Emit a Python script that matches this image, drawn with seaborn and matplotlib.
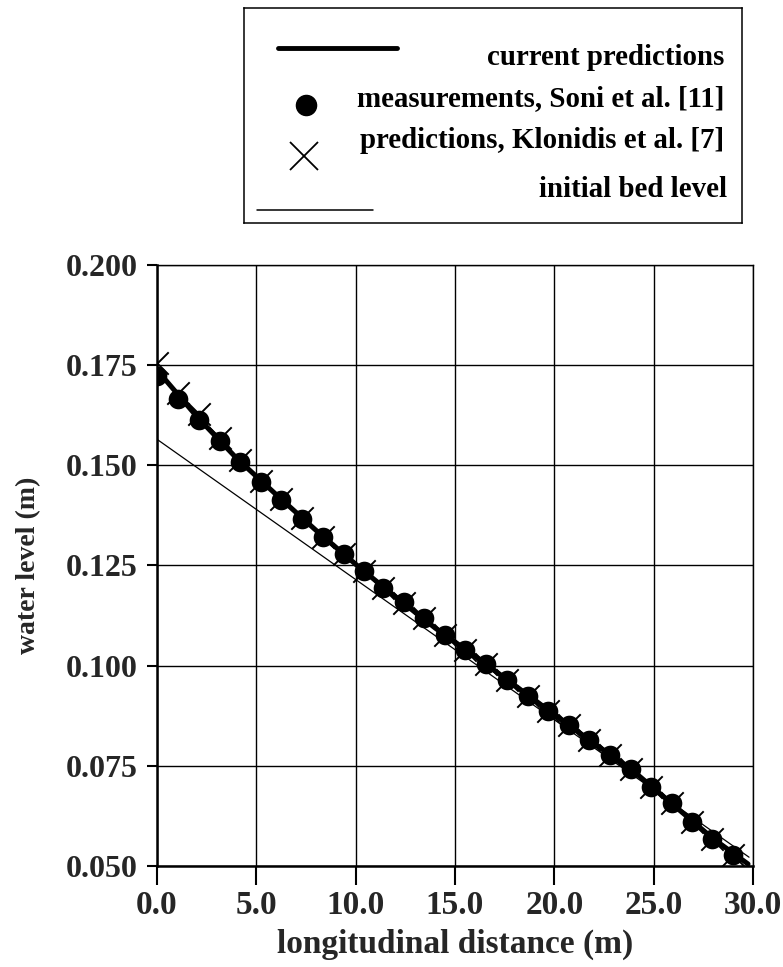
import matplotlib
matplotlib.use("Agg")
import matplotlib.pyplot as plt
import numpy as np
import pandas as pd
import seaborn as sns

# Longitudinal positions of the measuring stations (m)
x_stations = [0.0, 1.05, 2.1, 3.15, 4.2, 5.25, 6.25, 7.3, 8.35, 9.4,
              10.4, 11.4, 12.45, 13.45, 14.5, 15.5, 16.55, 17.6, 18.65, 19.7,
              20.75, 21.75, 22.8, 23.85, 24.85, 25.9, 26.95, 27.95, 29.0]

# Measured water levels, Soni et al. [11] (m)
y_measured = [0.1723, 0.1666, 0.1613, 0.1561, 0.1508, 0.1459, 0.1414, 0.1367, 0.1322, 0.1278,
              0.1237, 0.1195, 0.1158, 0.1119, 0.1077, 0.1040, 0.1003, 0.0963, 0.0925, 0.0888,
              0.0851, 0.0814, 0.0776, 0.0743, 0.0697, 0.0656, 0.0610, 0.0568, 0.0527]

# Predicted water levels, Klonidis et al. [7] (m)
y_klonidis = [0.1756, 0.1681, 0.1628, 0.1568, 0.1513, 0.1462, 0.1415, 0.1368, 0.1322, 0.1278,
              0.1237, 0.1195, 0.1157, 0.1118, 0.1077, 0.1040, 0.1003, 0.0963, 0.0925, 0.0888,
              0.0851, 0.0814, 0.0776, 0.0742, 0.0697, 0.0656, 0.0610, 0.0568, 0.0528]

# Current model predictions (m)
x_pred = [0.0, 2.0, 4.0, 6.0, 8.0, 10.0, 12.0, 14.0, 16.0, 18.0, 20.0, 22.0, 24.0, 26.0, 28.0, 29.75]
y_pred = [0.1738, 0.1622, 0.1518, 0.1427, 0.1338, 0.1253, 0.1172, 0.1094, 0.1024, 0.0951,
          0.0878, 0.0806, 0.0736, 0.0652, 0.0568, 0.0505]

# Initial bed level (m)
x_bed = [0.0, 29.8]
y_bed = [0.1565, 0.0522]

x_ticks = [0.0, 5.0, 10.0, 15.0, 20.0, 25.0, 30.0]
y_ticks = [0.050, 0.075, 0.100, 0.125, 0.150, 0.175, 0.200]

legend_labels = ["current predictions", "measurements, Soni et al. [11]",
                 "predictions, Klonidis et al. [7]", "initial bed level"]

sns.set_theme(style="white")
plt.rcParams["font.family"] = ["Liberation Serif", "DejaVu Serif"]
plt.rcParams["font.weight"] = "bold"
plt.rcParams["axes.labelweight"] = "bold"

W, H = 783, 967
fig = plt.figure(figsize=(W / 100, H / 100), dpi=100)
fig.patch.set_facecolor("white")

# main axes
ax = fig.add_axes([157 / W, 1 - 866 / H, 596 / W, 601 / H])
ax.set_facecolor("white")

meas = pd.DataFrame({"x": x_stations, "y": y_measured})
klon = pd.DataFrame({"x": x_stations, "y": y_klonidis})
pred = pd.DataFrame({"x": x_pred, "y": y_pred})
bed = pd.DataFrame({"x": x_bed, "y": y_bed})

sns.lineplot(data=bed, x="x", y="y", ax=ax, color="black", linewidth=0.9, zorder=3)
sns.lineplot(data=pred, x="x", y="y", ax=ax, color="black", linewidth=3.6, zorder=4)
sns.scatterplot(data=meas, x="x", y="y", ax=ax, color="black", s=200,
                edgecolor="black", linewidth=0, zorder=5)
sns.scatterplot(data=klon, x="x", y="y", ax=ax, color="black", marker="x",
                s=260, linewidth=1.4, zorder=6)

ax.set_xlim(0, 30)
ax.set_ylim(0.05, 0.2)
ax.set_xticks(x_ticks)
ax.set_yticks(y_ticks)
ax.set_xticklabels([f"{v:.1f}" for v in x_ticks])
ax.set_yticklabels([f"{v:.3f}" for v in y_ticks])
ax.grid(True, color="black", linewidth=1.0)
ax.set_axisbelow(True)

for side in ["top", "right"]:
    ax.spines[side].set_visible(True)
    ax.spines[side].set_color("black")
    ax.spines[side].set_linewidth(1.0)
for side in ["left", "bottom"]:
    ax.spines[side].set_color("black")
    ax.spines[side].set_linewidth(1.8)

ax.tick_params(axis="y", direction="out", length=7, width=1.5, color="black",
               labelsize=23, pad=7, left=True)
ax.tick_params(axis="x", direction="out", length=14, width=1.5, color="black",
               labelsize=24, pad=3, bottom=True)
for lab in ax.get_xticklabels() + ax.get_yticklabels():
    lab.set_fontweight("bold")

ax.set_xlabel("longitudinal distance (m)", fontsize=24, fontweight="bold", va="center")
ax.xaxis.set_label_coords(0.5, (866 - 944) / 601)
ax.set_ylabel("water level (m)", fontsize=20, fontweight="bold", va="center")
ax.yaxis.set_label_coords((29 - 157) / 596, 0.5)

# legend box, drawn in pixel units
lg = fig.add_axes([244 / W, 1 - 223 / H, 498 / W, 215 / H])
lg.set_xlim(0, 498)
lg.set_ylim(215, 0)
lg.set_xticks([])
lg.set_yticks([])
lg.set_facecolor("white")
for s in lg.spines.values():
    s.set_visible(True)
    s.set_color("black")
    s.set_linewidth(1.1)

lg.plot([34, 153], [40, 40], color="black", linewidth=3.5, solid_capstyle="round")
lg.plot([62], [97], marker="o", markersize=14.5, color="black", linestyle="none")
lg.plot([60], [148], marker="x", markersize=20, markeredgewidth=1.3, color="black", linestyle="none")
lg.plot([13, 129], [202, 202], color="black", linewidth=1.1)

text_kw = dict(fontsize=20.8, fontweight="bold", ha="right", va="baseline", color="black")
lg.text(480, 57, legend_labels[0], **text_kw)
lg.text(480, 98, legend_labels[1], **text_kw)
lg.text(480, 140, legend_labels[2], **text_kw)
lg.text(483, 189, legend_labels[3], **text_kw)

fig.savefig("out.png", dpi=100, facecolor="white")
